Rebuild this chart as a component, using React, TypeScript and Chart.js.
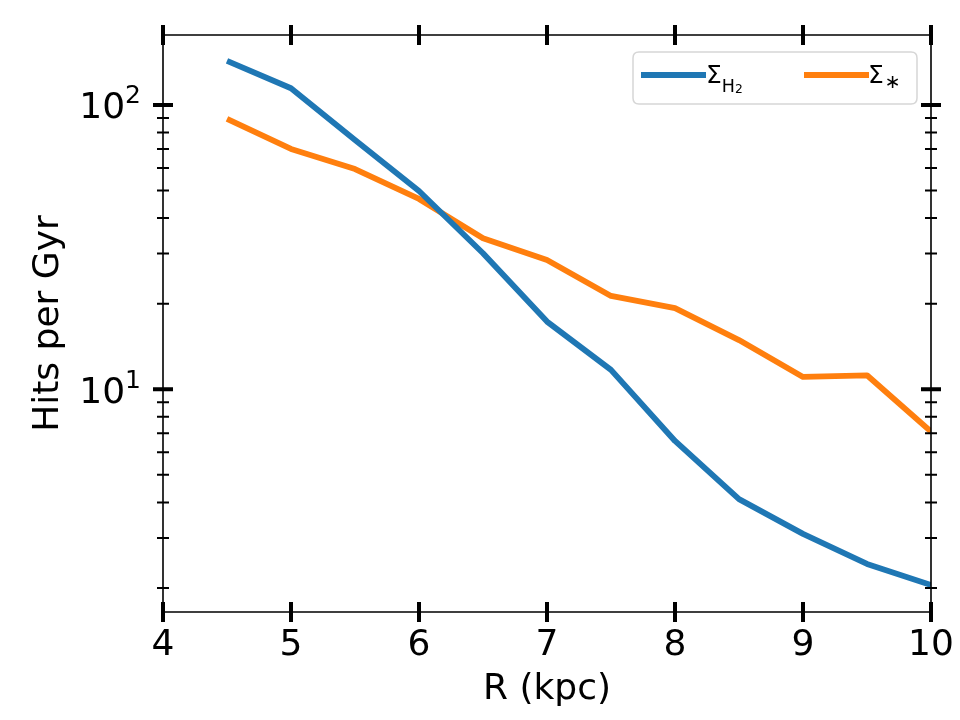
import React, { useEffect, useRef } from "react";
import { Chart, registerables } from "chart.js";

Chart.register(...registerables);

// ---- data ----
const RADII = [4.5, 5, 5.5, 6, 6.5, 7, 7.5, 8, 8.5, 9, 9.5, 10];
const SIGMA_H2 = [142.9, 114.5, 75.3, 49.8, 30.1, 17.3, 11.7, 6.58, 4.11, 3.1, 2.43, 2.05];
const SIGMA_STAR = [89.3, 70.0, 59.5, 46.7, 34.0, 28.5, 21.3, 19.3, 14.9, 11.05, 11.2, 7.1];
const X_TICKS = [4, 5, 6, 7, 8, 9, 10];
const Y_MAJOR = [10, 100];
const Y_MAJOR_BASE = ["10", "10"];
const Y_MAJOR_EXP = ["1", "2"];
const Y_MINOR = [2, 3, 4, 5, 6, 7, 8, 9, 20, 30, 40, 50, 60, 70, 80, 90];
const X_MIN = 4;
const X_MAX = 10;
const Y_MIN = 1.647;
const Y_MAX = 176.2;
const X_TITLE = "R (kpc)";
const Y_TITLE = "Hits per Gyr";

const BLUE = "#1f77b4";
const ORANGE = "#ff7f0e";
const FONT = '"DejaVu Sans", sans-serif';

const framePlugin = {
  id: "frameTicks",
  afterDatasetsDraw(chart: any) {
    const { ctx, chartArea } = chart;
    const { left, right, top, bottom } = chartArea;
    const xs = chart.scales.x;
    const ys = chart.scales.y;
    ctx.save();
    ctx.strokeStyle = "#000";
    ctx.lineWidth = 1.6;
    ctx.beginPath();
    ctx.rect(left, top, right - left, bottom - top);
    ctx.stroke();

    const majorLen = 10;
    const minorLen = 6;
    ctx.lineWidth = 4;
    ctx.beginPath();
    X_TICKS.forEach((v) => {
      const px = xs.getPixelForValue(v);
      ctx.moveTo(px, bottom - majorLen);
      ctx.lineTo(px, bottom + majorLen);
      ctx.moveTo(px, top - majorLen);
      ctx.lineTo(px, top + majorLen);
    });
    Y_MAJOR.forEach((v) => {
      const py = ys.getPixelForValue(v);
      ctx.moveTo(left - majorLen, py);
      ctx.lineTo(left + majorLen, py);
      ctx.moveTo(right - majorLen, py);
      ctx.lineTo(right + majorLen, py);
    });
    ctx.stroke();
    ctx.lineWidth = 2;
    ctx.beginPath();
    Y_MINOR.forEach((v) => {
      if (v < Y_MIN || v > Y_MAX) return;
      const py = ys.getPixelForValue(v);
      ctx.moveTo(left - minorLen, py);
      ctx.lineTo(left + minorLen, py);
      ctx.moveTo(right - minorLen, py);
      ctx.lineTo(right + minorLen, py);
    });
    ctx.stroke();

    // y tick labels with superscripts
    ctx.fillStyle = "#000";
    ctx.textAlign = "right";
    ctx.textBaseline = "alphabetic";
    const labelRight = left - 22;
    Y_MAJOR.forEach((v, i) => {
      const py = ys.getPixelForValue(v);
      ctx.font = `25px ${FONT}`;
      const supW = ctx.measureText(Y_MAJOR_EXP[i]).width;
      ctx.fillText(Y_MAJOR_EXP[i], labelRight, py - 1.7);
      ctx.font = `36px ${FONT}`;
      ctx.fillText(Y_MAJOR_BASE[i], labelRight - supW, py + 13.3);
    });

    // legend
    const bx = 633, by = 52, bw = 284, bh = 52, r = 6;
    ctx.beginPath();
    ctx.moveTo(bx + r, by);
    ctx.lineTo(bx + bw - r, by);
    ctx.quadraticCurveTo(bx + bw, by, bx + bw, by + r);
    ctx.lineTo(bx + bw, by + bh - r);
    ctx.quadraticCurveTo(bx + bw, by + bh, bx + bw - r, by + bh);
    ctx.lineTo(bx + r, by + bh);
    ctx.quadraticCurveTo(bx, by + bh, bx, by + bh - r);
    ctx.lineTo(bx, by + r);
    ctx.quadraticCurveTo(bx, by, bx + r, by);
    ctx.closePath();
    ctx.fillStyle = "rgba(255,255,255,0.8)";
    ctx.fill();
    ctx.strokeStyle = "#d6d6d6";
    ctx.lineWidth = 1.5;
    ctx.stroke();

    const items = chart.data.datasets;
    const handleX = [641, 804];
    ctx.lineCap = "butt";
    items.forEach((ds: any, i: number) => {
      const hx = handleX[i];
      ctx.strokeStyle = ds.borderColor;
      ctx.lineWidth = 5.8;
      ctx.beginPath();
      ctx.moveTo(hx, 75);
      ctx.lineTo(hx + 65, 75);
      ctx.stroke();
    });
    ctx.fillStyle = "#000";
    ctx.textAlign = "left";
    // Σ_{H2}
    let tx = 706;
    ctx.font = `25px ${FONT}`;
    ctx.fillText("Σ", tx, 83.3);
    tx += ctx.measureText("Σ").width;
    ctx.font = `17.5px ${FONT}`;
    ctx.fillText("H", tx, 91.7);
    tx += ctx.measureText("H").width;
    ctx.font = `12.3px ${FONT}`;
    ctx.fillText("2", tx, 92.8);
    // Σ_*
    tx = 868;
    ctx.font = `25px ${FONT}`;
    ctx.fillText("Σ", tx, 83.3);
    tx += ctx.measureText("Σ").width;
    ctx.font = `19px ${FONT}`;
    ctx.fillText("∗", tx + 1, 88);
    ctx.restore();
  },
};

export default function App() {
  const canvasRef = useRef<HTMLCanvasElement | null>(null);

  useEffect(() => {
    if (!canvasRef.current) return;
    const mk = (vals: number[]) => RADII.map((x, i) => ({ x, y: vals[i] }));
    const chart = new Chart(canvasRef.current, {
      type: "line",
      data: {
        datasets: [
          {
            label: "Σ_H2",
            data: mk(SIGMA_H2),
            borderColor: BLUE,
            backgroundColor: BLUE,
            borderWidth: 5.8,
            pointRadius: 0,
            tension: 0,
            clip: 0,
            borderJoinStyle: "round",
            borderCapStyle: "butt",
          },
          {
            label: "Σ_*",
            data: mk(SIGMA_STAR),
            borderColor: ORANGE,
            backgroundColor: ORANGE,
            borderWidth: 5.8,
            pointRadius: 0,
            tension: 0,
            clip: 0,
            borderJoinStyle: "round",
            borderCapStyle: "butt",
          },
        ],
      },
      options: {
        responsive: false,
        animation: false,
        devicePixelRatio: 1,
        layout: { padding: { top: 35, right: 29, left: 0, bottom: 0 } },
        plugins: {
          legend: { display: false },
          tooltip: { enabled: false },
        },
        scales: {
          x: {
            type: "linear",
            min: X_MIN,
            max: X_MAX,
            afterFit: (s: any) => {
              s.height = 108;
              s.paddingLeft = 0;
              s.paddingRight = 0;
            },
            afterBuildTicks: (s: any) => {
              s.ticks = X_TICKS.map((v) => ({ value: v }));
            },
            ticks: {
              color: "#000",
              font: { family: FONT, size: 36 },
              padding: 12,
              maxRotation: 0,
              autoSkip: false,
              callback: (v: any) => String(v),
            },
            grid: { display: false, drawTicks: false },
            border: { display: false },
            title: {
              display: true,
              text: X_TITLE,
              color: "#000",
              font: { family: FONT, size: 36 },
              padding: { top: 0, bottom: 9 },
            },
          },
          y: {
            type: "logarithmic",
            min: Y_MIN,
            max: Y_MAX,
            afterFit: (s: any) => {
              s.width = 163;
              s.paddingTop = 0;
              s.paddingBottom = 0;
            },
            ticks: { display: false },
            grid: { display: false, drawTicks: false },
            border: { display: false },
            title: {
              display: true,
              text: Y_TITLE,
              color: "#000",
              font: { family: FONT, size: 36 },
              padding: { top: 27, bottom: 0 },
            },
          },
        },
      },
      plugins: [framePlugin],
    });
    return () => chart.destroy();
  }, []);

  return (
    <div style={{ position: "fixed", left: 0, top: 0, width: 960, height: 720, background: "#fff" }}>
      <canvas ref={canvasRef} width={960} height={720} style={{ display: "block" }} />
    </div>
  );
}
